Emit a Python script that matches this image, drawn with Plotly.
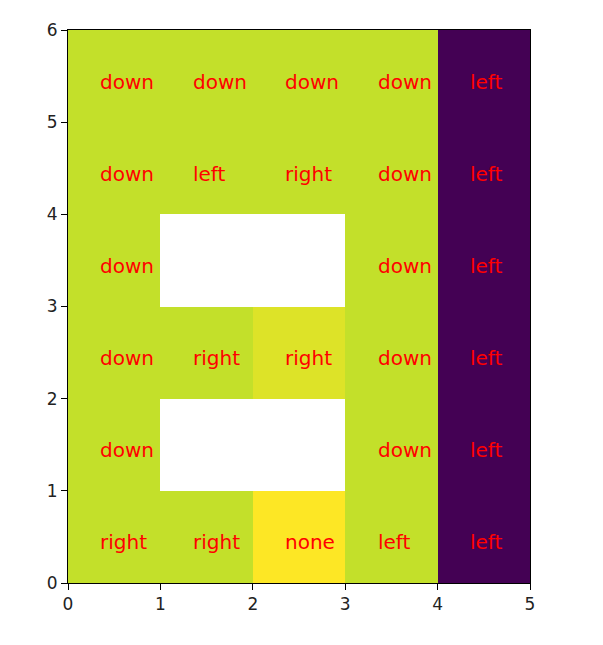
import numpy as np
import plotly.graph_objects as go

x_edges = [0, 1, 2, 3, 4, 5]
y_edges = [0, 1, 2, 3, 4, 5, 6]
# values per row (bottom row first), columns 0..4; None = blocked cell
values = [
    [0.91, 0.91, 1.00, 0.91, 0.0],
    [0.91, None, None, 0.91, 0.0],
    [0.91, 0.91, 0.95, 0.91, 0.0],
    [0.91, None, None, 0.91, 0.0],
    [0.91, 0.91, 0.91, 0.91, 0.0],
    [0.91, 0.91, 0.91, 0.91, 0.0],
]
actions = [
    ["right", "right", "none", "left", "left"],
    ["down", "", "", "down", "left"],
    ["down", "right", "right", "down", "left"],
    ["down", "", "", "down", "left"],
    ["down", "left", "right", "down", "left"],
    ["down", "down", "down", "down", "left"],
]
tick_vals_x = [0, 1, 2, 3, 4, 5]
tick_vals_y = [0, 1, 2, 3, 4, 5, 6]

z = np.array([[np.nan if v is None else v for v in row] for row in values], dtype=float)

fig = go.Figure()
fig.add_trace(go.Heatmap(
    x=x_edges, y=y_edges, z=z, colorscale="Viridis", zmin=0, zmax=1,
    showscale=False, hoverongaps=False,
))

for r, row in enumerate(actions):
    for c, label in enumerate(row):
        if label:
            fig.add_annotation(
                x=c + 0.33, y=r + 0.44, text=label, showarrow=False,
                xanchor="left", yanchor="middle",
                font=dict(family="DejaVu Sans", size=20, color="#ff0000"),
            )

axis_common = dict(
    showgrid=False, zeroline=False, showline=True, linecolor="black",
    linewidth=1, mirror=True, ticks="outside", ticklen=6, tickcolor="black",
    tickfont=dict(family="DejaVu Sans", size=17, color="#222"),
)
fig.update_xaxes(range=[0, 5], tickvals=tick_vals_x, **axis_common)
fig.update_yaxes(range=[0, 6], tickvals=tick_vals_y, **axis_common)

fig.update_layout(
    width=603, height=645,
    margin=dict(l=68, r=73, t=30, b=62),
    plot_bgcolor="white", paper_bgcolor="white",
    showlegend=False,
)
fig.write_html("out.html")
